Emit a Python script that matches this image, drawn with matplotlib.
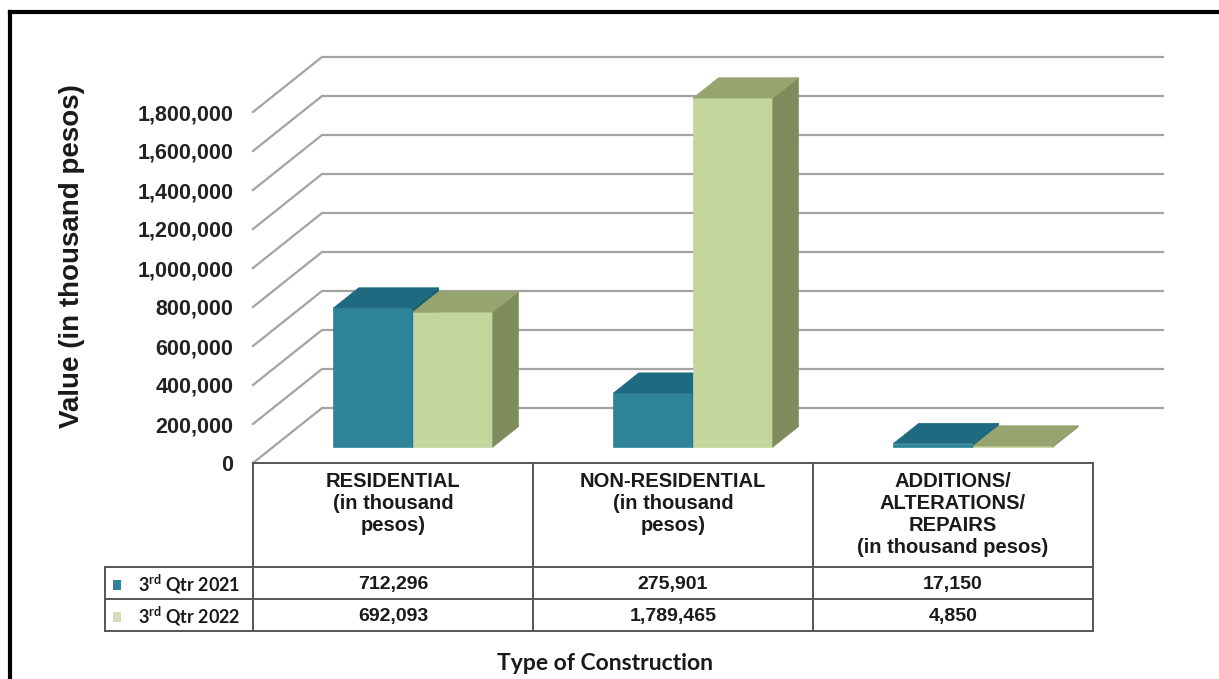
import matplotlib
matplotlib.use("Agg")
import matplotlib.pyplot as plt
from matplotlib.patches import Polygon, Rectangle
from matplotlib.lines import Line2D
from matplotlib import transforms

# --- data ---
categories = ["RESIDENTIAL\n(in thousand\npesos)",
              "NON-RESIDENTIAL\n(in thousand\npesos)",
              "ADDITIONS/\nALTERATIONS/\nREPAIRS\n(in thousand pesos)"]
series_names = ["3$^{\\mathbf{rd}}$ Qtr 2021", "3$^{\\mathbf{rd}}$ Qtr 2022"]
q3_2021 = [712296, 275901, 17150]
q3_2022 = [692093, 1789465, 4850]
tick_values = [0, 200000, 400000, 600000, 800000, 1000000,
               1200000, 1400000, 1600000, 1800000]
tick_labels = ["0", "200,000", "400,000", "600,000", "800,000", "1,000,000",
               "1,200,000", "1,400,000", "1,600,000", "1,800,000"]

# --- colours (front, side, top) ---
teal = ("#2e8399", "#1d5e70", "#1f6a80")
green = ("#c4d69b", "#7e8b5b", "#96a56f")
swatches = ["#2e8399", "#d3dbbb"]
grid_col = "#a3a3a3"
line_col = "#555555"

plt.rcParams["mathtext.fontset"] = "custom"
plt.rcParams["mathtext.bf"] = "Lato:bold"
plt.rcParams["mathtext.rm"] = "Lato:bold"

W, H = 1219, 679
fig = plt.figure(figsize=(W / 100, H / 100), dpi=100)

def fx(px):
    return px / W

def fy(py):
    return 1 - py / H

# plot area: category units across, value units up
PX_PER_CAT = 280.0
PX_PER_VAL = 39.0 / 200000
x_left, x_right, y_floor, y_top = 253, 1165, 463, 30
ax = fig.add_axes([fx(x_left), fy(y_floor), (x_right - x_left) / W, (y_floor - y_top) / H])
ax.set_xlim(0, (x_right - x_left) / PX_PER_CAT)
ax.set_ylim(0, (y_floor - y_top) / PX_PER_VAL)
for s in ax.spines.values():
    s.set_visible(False)
ax.set_xticks([])

# oblique depth vector (full depth of the floor)
DX = 69 / PX_PER_CAT
DY = 55 / PX_PER_VAL
back_x = (1163 - x_left) / PX_PER_CAT

def proj(x, v, f):
    return (x + f * DX, v + f * DY)

# back wall gridlines with their diagonal floor/side lines
for v in tick_values:
    x0, y0 = proj(0, v, 0)
    x1, y1 = proj(0, v, 1)
    ax.plot([x0, x1, back_x], [y0, y1, y1], color=grid_col, lw=1.6,
            solid_joinstyle="miter", clip_on=False, zorder=1)

ax.set_yticks(tick_values)
ax.set_yticklabels(tick_labels, fontsize=15.5, fontweight="bold",
                   family="Liberation Sans", color="#222222")
ax.tick_params(axis="y", length=0, pad=14)

# 3D bars
F0, F1 = 0.29, 0.66
BAR_W = 0.285

def bar3d(x0, val, cols):
    front, side, top = cols
    faces = [
        ([proj(x0, 0, F0), proj(x0 + BAR_W, 0, F0),
          proj(x0 + BAR_W, val, F0), proj(x0, val, F0)], front),
        ([proj(x0 + BAR_W, 0, F0), proj(x0 + BAR_W, 0, F1),
          proj(x0 + BAR_W, val, F1), proj(x0 + BAR_W, val, F0)], side),
        ([proj(x0, val, F0), proj(x0 + BAR_W, val, F0),
          proj(x0 + BAR_W, val, F1), proj(x0, val, F1)], top),
    ]
    for pts, c in faces:
        ax.add_patch(Polygon(pts, closed=True, facecolor=c, edgecolor=c,
                             lw=0.5, zorder=3))

for i in range(len(categories)):
    bar3d(i + 0.5 - BAR_W, q3_2021[i], teal)
    bar3d(i + 0.5, q3_2022[i], green)

# data table under the plot
tx = transforms.blended_transform_factory(ax.transData, fig.transFigure)
rows_y = [463, 567, 599, 631]
hdr_left = (105 - x_left) / PX_PER_CAT
n = len(categories)

def hline(x0, x1, py):
    ax.add_line(Line2D([x0, x1], [fy(py), fy(py)], transform=tx, color=line_col,
                       lw=1.4, clip_on=False))

def vline(x, py0, py1):
    ax.add_line(Line2D([x, x], [fy(py0), fy(py1)], transform=tx, color=line_col,
                       lw=1.4, clip_on=False))

hline(0, n, rows_y[0])
for py in rows_y[1:]:
    hline(hdr_left, n, py)
for i in range(n + 1):
    vline(i, rows_y[0], rows_y[3])
vline(hdr_left, rows_y[1], rows_y[3])

for i, cat in enumerate(categories):
    ax.text(i + 0.5, fy(472), cat, transform=tx, ha="center", va="top",
            fontsize=14.5, fontweight="bold", family="Liberation Sans",
            color="#1a1a1a", linespacing=1.2)

for r, vals in enumerate([q3_2021, q3_2022]):
    cy = fy((rows_y[r + 1] + rows_y[r + 2]) / 2 + 1.5)
    for i, v in enumerate(vals):
        ax.text(i + 0.5, cy, f"{v:,}", transform=tx, ha="center", va="center",
                fontsize=14, fontweight="bold", family="Liberation Sans",
                color="#1a1a1a")
    fig.patches.append(Rectangle((fx(113), cy - 5 / H), 8 / W, 10 / H,
                                 transform=fig.transFigure,
                                 facecolor=swatches[r], edgecolor="none"))
    fig.text(fx(138), cy, series_names[r], ha="left", va="center",
             fontsize=13, fontweight="bold", family="Lato", color="#1a1a1a")

# axis titles
fig.text(fx(72), fy(256), "Value (in thousand pesos)", rotation=90,
         ha="center", va="center", fontsize=20, fontweight="bold",
         family="Liberation Sans", color="#1a1a1a")
fig.text(fx(605), fy(663), "Type of Construction", ha="center", va="center",
         fontsize=16.5, fontweight="bold", family="Lato", color="#1a1a1a")

# outer frame (left and top edges)
fig.add_artist(Line2D([fx(10), fx(10)], [fy(12), 0], transform=fig.transFigure,
                      color="black", lw=3))
fig.add_artist(Line2D([fx(10), 1], [fy(12), fy(12)], transform=fig.transFigure,
                      color="black", lw=3))

fig.savefig("out.png", dpi=100)
